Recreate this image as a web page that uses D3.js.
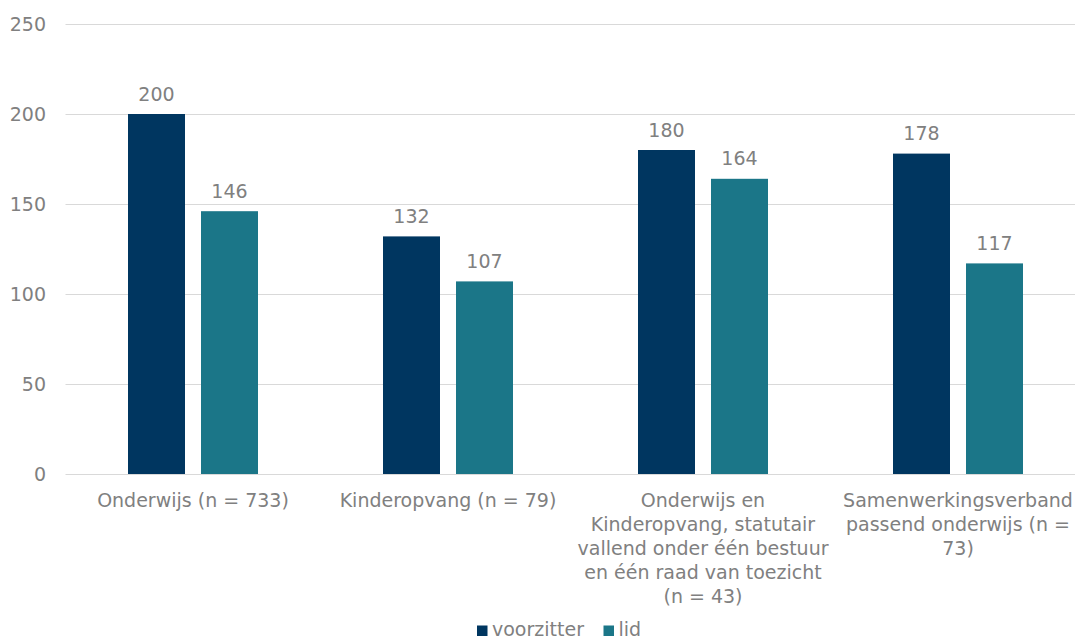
<!DOCTYPE html>
<html><head><meta charset="utf-8">
<script src="https://cdn.jsdelivr.net/npm/d3@7"></script>
<style>body{margin:0;background:#fff}svg{display:block}</style>
</head><body>
<svg id="c" width="1075" height="641"></svg>
<script>
const categories = [
  ["Onderwijs (n = 733)"],
  ["Kinderopvang (n = 79)"],
  ["Onderwijs en", "Kinderopvang, statutair", "vallend onder één bestuur", "en één raad van toezicht", "(n = 43)"],
  ["Samenwerkingsverband", "passend onderwijs (n =", "73)"]
];
const seriesNames = ["voorzitter", "lid"];
const voorzitter = [200, 132, 180, 178];
const lid = [146, 107, 164, 117];
const yTicks = [0, 50, 100, 150, 200, 250];
const colors = ["#003660", "#1b7688"];

(function () {
const svg = d3.select("#c");
const font = "DejaVu Sans, Verdana, sans-serif";
const fs = 19;
const txt = "#808080";
const pLeft = 65.5, pRight = 1085.5, pTop = 24, pBottom = 474;
const x0 = d3.scaleBand().domain(d3.range(categories.length)).range([pLeft, pRight]).paddingInner(0).paddingOuter(0);
const bw = 57, gap = 16;
const y = d3.scaleLinear().domain([0, 250]).range([pBottom, pTop]);

svg.append("g").selectAll("line").data(yTicks).join("line")
  .attr("x1", pLeft).attr("x2", 1075)
  .attr("y1", d => Math.round(y(d)) + 0.5).attr("y2", d => Math.round(y(d)) + 0.5)
  .attr("stroke", "#d9d9d9").attr("stroke-width", 1);

svg.append("g").selectAll("text").data(yTicks).join("text")
  .attr("x", 46).attr("y", d => y(d) + 7)
  .attr("text-anchor", "end").attr("font-family", font).attr("font-size", fs)
  .attr("fill", txt).text(d => d);

const data = [voorzitter, lid];
data.forEach((vals, s) => {
  const g = svg.append("g");
  const xpos = i => x0(i) + x0.bandwidth() / 2 + (s === 0 ? -gap / 2 - bw : gap / 2);
  g.selectAll("rect").data(vals).join("rect")
    .attr("x", (d, i) => xpos(i)).attr("width", bw)
    .attr("y", d => y(d)).attr("height", d => y(0) - y(d))
    .attr("fill", colors[s]);
  g.selectAll("text").data(vals).join("text")
    .attr("x", (d, i) => xpos(i) + bw / 2).attr("y", d => y(d) - 13.5)
    .attr("text-anchor", "middle").attr("font-family", font).attr("font-size", fs)
    .attr("fill", txt).text(d => d);
});

const cg = svg.append("g");
categories.forEach((lines, i) => {
  const t = cg.append("text").attr("text-anchor", "middle").attr("font-family", font)
    .attr("font-size", fs).attr("fill", txt);
  lines.forEach((ln, j) => {
    t.append("tspan").attr("x", x0(i) + x0.bandwidth() / 2).attr("y", 507 + j * 24).text(ln);
  });
});

const lg = svg.append("g");
const items = [{n: seriesNames[0], c: colors[0], x: 477}, {n: seriesNames[1], c: colors[1], x: 603.5}];
items.forEach(it => {
  lg.append("rect").attr("x", it.x).attr("y", 625.5).attr("width", 10.5).attr("height", 10.5).attr("fill", it.c);
  lg.append("text").attr("x", it.x + 15).attr("y", 636).attr("font-family", font).attr("font-size", fs)
    .attr("fill", txt).text(it.n);
});
})();
</script>
</body></html>
